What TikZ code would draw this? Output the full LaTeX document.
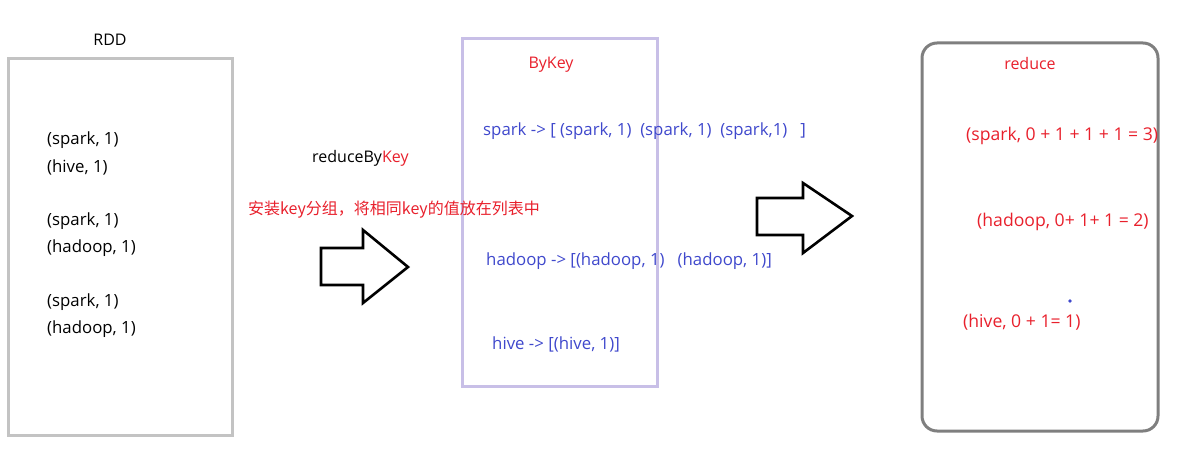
\documentclass[tikz,border=0pt]{standalone}
\usepackage{fontspec}
\setmainfont{Open Sans}
\newfontfamily\cjkfont{Noto Sans CJK SC}
\definecolor{pblue}{HTML}{3F48CC}
\definecolor{pred}{HTML}{E8202C}
\definecolor{rddgray}{HTML}{C3C3C3}
\definecolor{lav}{HTML}{C8BFE7}
\definecolor{dgray}{HTML}{7F7F7F}
\tikzset{
  txt/.style={inner sep=0pt, anchor=west, font=\fontsize{16.8}{19}\selectfont},
  rtxt/.style={txt, text=pred, font=\fontsize{17.6}{19}\selectfont},
  ctxt/.style={inner sep=0pt, anchor=center, font=\fontsize{16}{19}\selectfont},
  bigarrow/.style={draw=black, line width=2.6pt, miter limit=10, fill=white}
}
\begin{document}
\begin{tikzpicture}[x=1pt,y=-1pt]
\useasboundingbox (0,0) rectangle (1188,449);
% boxes
\draw[rddgray, line width=3pt] (8,59) rectangle (232,435);
\draw[lav, line width=3pt] (462,39) rectangle (657,386);
\draw[dgray, line width=3pt, rounded corners=15pt] (922,43) rectangle (1158,431);
% titles
\node[ctxt] (rdd) at (110,40) {RDD};
\node[ctxt, text=pred] (bykey) at (551,65) {ByKey};
\node[ctxt, text=pred] (reduce) at (1030,64) {reduce};
% RDD items
\node[txt] (r1) at (47,140) {(spark, 1)};
\node[txt] (r2) at (47,167) {(hive, 1)};
\node[txt] (r3) at (47,221) {(spark, 1)};
\node[txt] (r4) at (47,248) {(hadoop, 1)};
\node[txt] (r5) at (47,302) {(spark, 1)};
\node[txt] (r6) at (47,329) {(hadoop, 1)};
% middle labels
\node[txt, font=\fontsize{16}{19}\selectfont] (rbk) at (312,158) {reduceBy\textcolor{pred}{Key}};
\node[txt, text=pred, font=\cjkfont\fontsize{16}{19}\selectfont] (cn) at (248,210) {安装key分组，将相同key的值放在列表中};
% ByKey items
\node[txt, text=pblue] (b1) at (483,131) {spark -> [ (spark, 1)\ \ (spark, 1)\ \ (spark,1)\ \ \ ]};
\node[txt, text=pblue] (b2) at (486,261) {hadoop -> [(hadoop, 1)\ \ \ (hadoop, 1)]};
\node[txt, text=pblue] (b3) at (492,344) {hive -> [(hive, 1)]};
% reduce items
\node[rtxt] (e1) at (966,136) {(spark, 0 + 1 + 1 + 1 = 3)};
\node[rtxt] (e2) at (977,222) {(hadoop, 0+ 1+ 1 = 2)};
\node[rtxt] (e3) at (963,322) {(hive, 0 + 1= 1)};
\fill[pblue] (1070,301) circle (1.8pt);
% block arrows
\draw[bigarrow] (321,248) -- (363,248) -- (363,230) -- (408,267) -- (363,303) -- (363,285) -- (321,285) -- cycle;
\draw[bigarrow] (757,198) -- (803,198) -- (803,183) -- (852,216) -- (803,253) -- (803,235) -- (757,235) -- cycle;
\end{tikzpicture}
\end{document}
